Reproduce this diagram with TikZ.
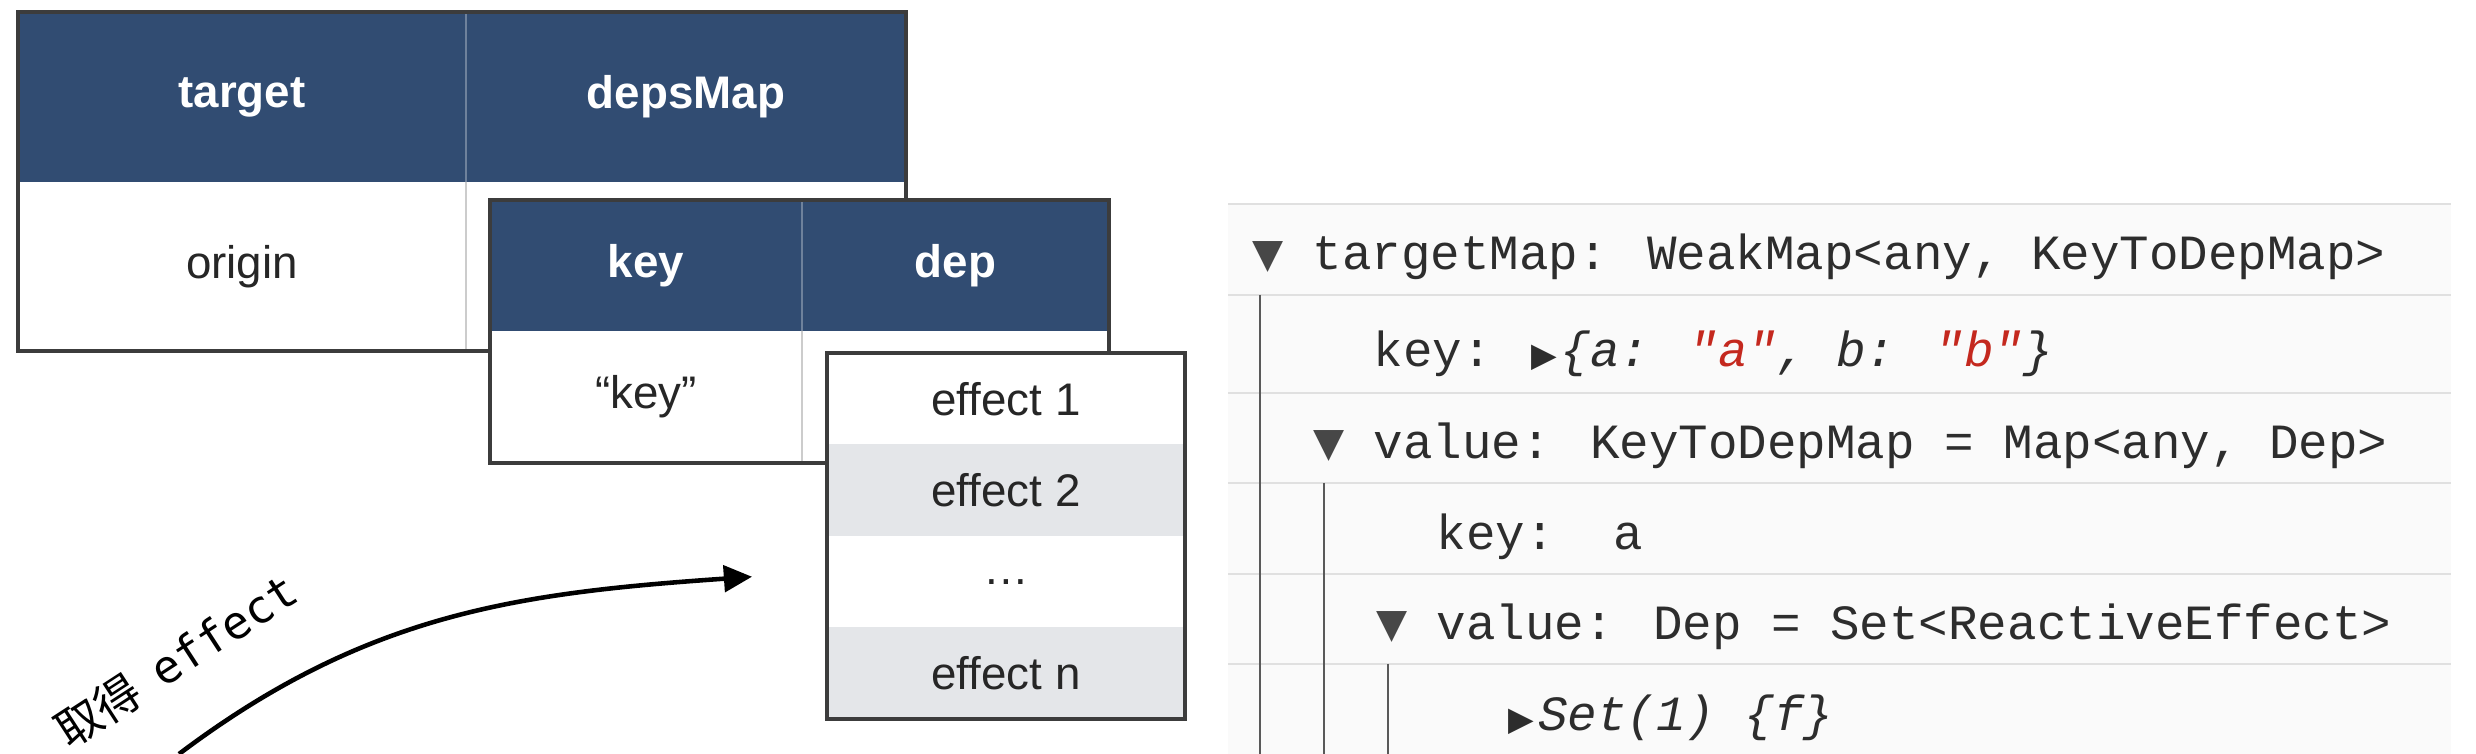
\documentclass[tikz,border=0pt]{standalone}
\usepackage{fontspec}
\setmainfont{Liberation Sans}
\newfontfamily\codefont{Liberation Mono}[Ligatures=TeXOff]
\newfontfamily\symfont{DejaVu Sans}
\newfontfamily\labelmono{DejaVu Sans Mono}
\newfontfamily\cjk{Noto Sans CJK SC}
\usetikzlibrary{positioning, arrows.meta}

\definecolor{headblue}{RGB}{49,76,114}
\definecolor{rowgray}{RGB}{228,230,233}
\definecolor{framegray}{RGB}{60,60,60}
\definecolor{codegray}{RGB}{45,45,45}
\definecolor{stringred}{RGB}{196,40,30}
\definecolor{panelbg}{RGB}{250,250,250}
\definecolor{panelline}{RGB}{224,224,224}

\newcommand{\righttri}{\makebox[0.6em][l]{\symfont\fontsize{9.5}{9.5}\selectfont ▶}}

\begin{document}
\begin{tikzpicture}[
    hcell/.style={fill=headblue, text=white, font=\fontsize{13}{15}\selectfont\bfseries, inner sep=0pt, outer sep=0pt},
    bcell/.style={fill=white, text=black!85, font=\fontsize{13}{15}\selectfont, inner sep=0pt, outer sep=0pt},
    gcell/.style={bcell, fill=rowgray},
    frame/.style={draw=framegray, line width=0.9pt},
    hsep/.style={draw=headblue!70!white, line width=0.5pt},
    bsep/.style={draw=black!20, line width=0.6pt},
    coderow/.style={anchor=base west, inner sep=0pt, text=codegray, font=\codefont\fontsize{14}{16}\selectfont},
    downtri/.style={inner sep=0pt, text=black!72, font=\symfont\fontsize{11.5}{11.5}\selectfont},
    guide/.style={draw=black!65, line width=0.7pt},
    fetch/.style={-{Triangle[length=8pt,width=7.5pt]}, line width=1.3pt}
]
    \useasboundingbox (0,0) rectangle (24.76,7.54);

    % target -> depsMap
    \node[hcell, minimum width=4.48cm, minimum height=1.70cm, anchor=north west] (target) at (0.18,7.42) {target};
    \node[hcell, minimum width=4.40cm, minimum height=1.70cm, right=0pt of target] (depsMap) {depsMap};
    \node[bcell, minimum width=4.48cm, minimum height=1.69cm, below=0pt of target] (origin) {origin};
    \node[bcell, minimum width=4.40cm, minimum height=1.69cm, below=0pt of depsMap] (depsval) {};
    \draw[hsep] (target.north east) -- (target.south east);
    \draw[bsep] (origin.north east) -- (origin.south east);
    \draw[frame] (target.north west) rectangle (depsval.south east);

    % key -> dep
    \node[hcell, minimum width=3.12cm, minimum height=1.31cm, below right=0.18cm and 0.24cm of depsval.north west] (key) {key};
    \node[hcell, minimum width=3.07cm, minimum height=1.31cm, right=0pt of key] (dep) {dep};
    \node[bcell, minimum width=3.12cm, minimum height=1.32cm, below=0pt of key] (keyval) {“key”};
    \node[bcell, minimum width=3.07cm, minimum height=1.32cm, below=0pt of dep] (depval) {};
    \draw[hsep] (key.north east) -- (key.south east);
    \draw[bsep] (keyval.north east) -- (keyval.south east);
    \draw[frame] (key.north west) rectangle (depval.south east);

    % dep set
    \node[bcell, minimum width=3.58cm, minimum height=0.915cm, below right=0.22cm and 0.25cm of depval.north west] (eff1) {effect 1};
    \node[gcell, minimum width=3.58cm, minimum height=0.915cm, below=0pt of eff1] (eff2) {effect 2};
    \node[bcell, minimum width=3.58cm, minimum height=0.915cm, below=0pt of eff2] (eff3) {…};
    \node[gcell, minimum width=3.58cm, minimum height=0.915cm, below=0pt of eff3] (effn) {effect n};
    \draw[frame] (eff1.north west) rectangle (effn.south east);

    % fetch arrow
    \coordinate (src) at (1.79,0);
    \coordinate[above left=0.05cm and 0.75cm of eff3.west] (sink);
    \draw[fetch] (src) to[out=37, in=184] (sink);
    \node[rotate=33, inner sep=0pt, font=\fontsize{13}{15}\selectfont] (fetchlabel) at (1.76,0.94) {\cjk 取得\hspace{0.45em}\labelmono effect};

    % devtools panel
    \fill[panelbg] (12.28,0) rectangle (24.51,5.50);
    \draw[panelline, line width=0.6pt]
        (12.28,5.50) -- (24.51,5.50)
        (12.28,4.59) -- (24.51,4.59)
        (12.28,3.61) -- (24.51,3.61)
        (12.28,2.71) -- (24.51,2.71)
        (12.28,1.80) -- (24.51,1.80)
        (12.28,0.90) -- (24.51,0.90);
    \draw[guide] (12.60,4.59) -- (12.60,0);
    \draw[guide] (13.24,2.71) -- (13.24,0);
    \draw[guide] (13.88,0.90) -- (13.88,0);

    \node[coderow] (row1) at (13.12,4.84) {targetMap: WeakMap<any, KeyToDepMap>};
    \node[coderow] (row2) at (13.73,3.87) {key: \righttri{\itshape\{a: \textcolor{stringred}{"a"}, b: \textcolor{stringred}{"b"}\}}};
    \node[coderow] (row3) at (13.73,2.95) {value: KeyToDepMap = Map<any, Dep>};
    \node[coderow] (row4) at (14.36,2.04) {key:\ \ a};
    \node[coderow] (row5) at (14.36,1.14) {value: Dep = Set<ReactiveEffect>};
    \node[coderow] (row6) at (15.08,0.23) {\righttri{\itshape Set(1) \{f\}}};
    \node[downtri, left=0.28cm of row1] (tri1) {▼};
    \node[downtri, left=0.28cm of row3] (tri3) {▼};
    \node[downtri, left=0.28cm of row5] (tri5) {▼};
\end{tikzpicture}
\end{document}
